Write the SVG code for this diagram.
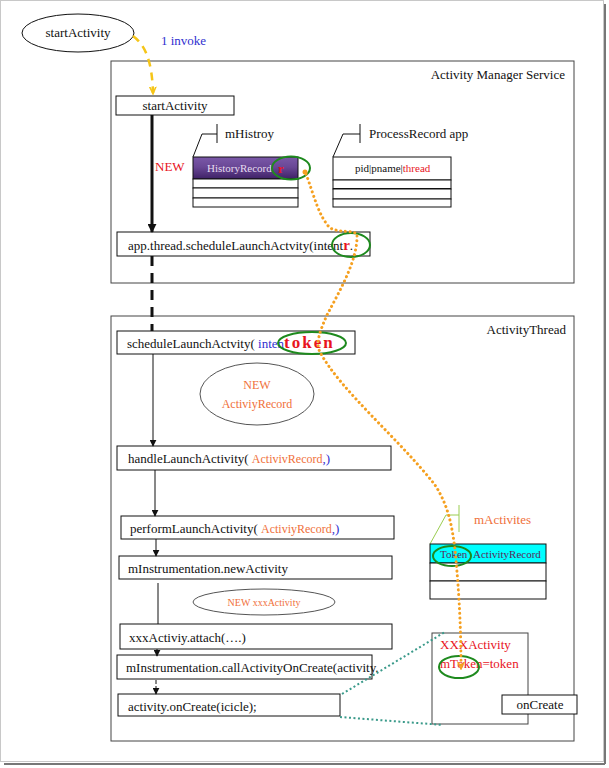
<svg xmlns="http://www.w3.org/2000/svg" width="609" height="768" viewBox="0 0 609 768">
<defs>
<style>
text{font-family:"Liberation Serif","Times New Roman",serif;font-size:13px;fill:#111}
.box{fill:#fff;stroke:#111;stroke-width:1}
.frame{fill:none;stroke:#444;stroke-width:1}
.thin{fill:none;stroke:#111;stroke-width:1}
.green{fill:none;stroke:#1e8a1e;stroke-width:2}
.red{fill:#e8141e}
.org{fill:#f0703a}
.blue{fill:#3030d0}
.teal{fill:none;stroke:#3a9a8a;stroke-width:2;stroke-dasharray:2,2.5}
.odot{fill:none;stroke:#f5a020;stroke-width:3;stroke-dasharray:0.1,4.6;stroke-linecap:round}
</style>
<marker id="ah" viewBox="0 0 10 10" refX="9" refY="5" markerWidth="7" markerHeight="7" orient="auto" markerUnits="userSpaceOnUse">
<path d="M0,0 L10,5 L0,10 z" fill="#111"/>
</marker>
<marker id="ahb" viewBox="0 0 10 10" refX="9" refY="5" markerWidth="9" markerHeight="9" orient="auto" markerUnits="userSpaceOnUse">
<path d="M0,0 L10,5 L0,10 z" fill="#111"/>
</marker>
<marker id="ahy" viewBox="0 0 10 10" refX="8" refY="5" markerWidth="8" markerHeight="8" orient="auto" markerUnits="userSpaceOnUse">
<path d="M0,1 L9,5 L0,9" fill="none" stroke="#f5c518" stroke-width="2"/>
</marker>
<marker id="aho" viewBox="0 0 10 10" refX="8" refY="5" markerWidth="8" markerHeight="8" orient="auto" markerUnits="userSpaceOnUse">
<path d="M0,1 L9,5 L0,9" fill="none" stroke="#f5a020" stroke-width="2"/>
</marker>
<linearGradient id="purp" x1="0" y1="0" x2="0" y2="1">
<stop offset="0" stop-color="#7a58a8"/>
<stop offset="0.45" stop-color="#6a4896"/>
<stop offset="1" stop-color="#3e2166"/>
</linearGradient>
</defs>

<rect x="0" y="0" width="609" height="768" fill="#fff"/>
<g id="outer-frame">
<rect x="0.5" y="0.5" width="603" height="761" fill="none" stroke="#c8c8c8" stroke-width="1"/>
<line x1="605" y1="4" x2="605" y2="764" stroke="#777" stroke-width="2"/>
<line x1="4" y1="764" x2="605" y2="764" stroke="#777" stroke-width="2"/>
</g>

<g id="ams-container">
<rect class="frame" x="111" y="61" width="463" height="222"/>
<text x="565" y="79" text-anchor="end">Activity Manager Service</text>
</g>

<g id="at-container">
<rect class="frame" x="111" y="316" width="463" height="425"/>
<text x="566" y="334" text-anchor="end">ActivityThread</text>
</g>

<g id="start-ellipse">
<ellipse cx="78" cy="33" rx="56" ry="19" fill="#fff" stroke="#111" stroke-width="1"/>
<text x="78" y="37" text-anchor="middle">startActivity</text>
</g>

<g id="invoke-label">
<text x="161" y="45" class="blue">1 invoke</text>
</g>

<g id="ams-start">
<rect class="box" x="116" y="96" width="118" height="19"/>
<text x="175" y="110" text-anchor="middle">startActivity</text>
</g>

<g id="new-label">
<text x="155" y="171" class="red">NEW</text>
</g>

<g id="mhistory">
<path class="thin" d="M217,124 V143 M217,134 H202 L193,157" stroke="#333"/>
<text x="225" y="138">mHistroy</text>
<rect x="193" y="157" width="105" height="22" fill="url(#purp)" stroke="#111"/>
<rect class="box" x="193" y="179" width="105" height="9"/>
<rect class="box" x="193" y="188" width="105" height="10"/>
<rect class="box" x="193" y="198" width="105" height="9"/>
<text x="207" y="172" style="fill:#e6dcf0;font-size:11px">HistoryRecord</text>
<text x="278" y="173" class="red" style="font-weight:bold;font-size:13px">r</text>
<ellipse class="green" cx="291" cy="168" rx="19" ry="11.5"/>
</g>

<g id="processrecord">
<path class="thin" d="M360,124 V143 M360,134 H343 L333,157" stroke="#333"/>
<text x="369" y="138">ProcessRecord app</text>
<rect class="box" x="333" y="157" width="118" height="23"/>
<rect class="box" x="333" y="180" width="118" height="9"/>
<line x1="333" y1="189" x2="451" y2="189" stroke="#111" stroke-width="2"/>
<rect class="box" x="333" y="189" width="118" height="10"/>
<rect class="box" x="333" y="199" width="118" height="8"/>
<text x="355" y="172" style="font-size:11px">pid|pname|<tspan class="red">thread</tspan></text>
</g>

<g id="ams-schedule">
<rect class="box" x="117" y="232" width="253" height="24"/>
<text x="128" y="250">app.thread.scheduleLaunchActvity(intent<tspan class="red" style="font-weight:bold;font-size:15px">r</tspan>.</text>
<ellipse class="green" cx="351" cy="245" rx="19" ry="12"/>
</g>

<g id="at-schedule">
<rect class="box" x="117" y="331" width="238" height="23"/>
<text x="127" y="348">scheduleLaunchActvity( <tspan class="blue">inten</tspan><tspan class="red" style="font-weight:bold;font-size:17px;letter-spacing:2px">token</tspan></text>
<ellipse class="green" cx="312" cy="343" rx="34" ry="11"/>
</g>

<g id="new-activityrecord">
<ellipse cx="257" cy="394" rx="57" ry="31" fill="#fff" stroke="#555" stroke-width="1"/>
<text x="257" y="389" text-anchor="middle" class="org" style="font-size:12px">NEW</text>
<text x="257" y="408" text-anchor="middle" class="org" style="font-size:12px">ActiviyRecord</text>
</g>

<g id="handle">
<rect class="box" x="117" y="446" width="274" height="24"/>
<text x="128" y="463">handleLaunchActivity( <tspan class="org" style="font-size:12px">ActivivRecord</tspan><tspan class="blue">,)</tspan></text>
</g>

<g id="perform">
<rect class="box" x="121" y="516" width="273" height="23"/>
<text x="130" y="533">performLaunchActivity( <tspan class="org" style="font-size:12px">ActiviyRecord</tspan><tspan class="blue">,)</tspan></text>
</g>

<g id="newactivity">
<rect class="box" x="119" y="556" width="273" height="23"/>
<text x="128" y="573">mInstrumentation.newActivity</text>
</g>

<g id="new-xxxactivity">
<ellipse cx="264" cy="602" rx="71" ry="13" fill="#fff" stroke="#555" stroke-width="1"/>
<text x="264" y="606" text-anchor="middle" class="org" style="font-size:10px">NEW xxxActivity</text>
</g>

<g id="attach">
<rect class="box" x="120" y="624" width="272" height="25"/>
<text x="129" y="642">xxxActiviy.attach(….)</text>
</g>

<g id="callcreate">
<rect class="box" x="117" y="655" width="255" height="24"/>
<text x="126" y="672">mInstrumentation.callActivityOnCreate(activity.</text>
</g>

<g id="oncreate-call">
<rect class="box" x="118" y="694" width="222" height="22"/>
<text x="128" y="711">activity.onCreate(icicle);</text>
</g>

<g id="mactivites">
<path d="M459,505 V532 M459,515 H446 L430,544" fill="none" stroke="#9acd50" stroke-width="1"/>
<text x="474" y="524" class="org">mActivites</text>
<rect x="430" y="544" width="116" height="19" fill="#00ffff" stroke="#111"/>
<rect class="box" x="430" y="563" width="116" height="18"/>
<rect class="box" x="430" y="581" width="116" height="18"/>
<text x="440" y="558" style="fill:#5a2a5a;font-size:11px">Token <tspan x="473">ActivityRecord</tspan></text>
<ellipse class="green" cx="452" cy="556" rx="19" ry="10"/>
</g>

<g id="xxxactivity">
<rect x="432" y="633" width="96" height="91" fill="#fff" stroke="#444" stroke-width="1"/>
<text x="440" y="649" class="red" style="font-size:13px">XXXActivity</text>
<text x="440" y="668" class="red" style="font-size:13px">mToken=token</text>
<ellipse class="green" cx="459" cy="667" rx="20" ry="11"/>
</g>

<g id="oncreate-box">
<rect class="box" x="502" y="695" width="75" height="19"/>
<text x="540" y="709" text-anchor="middle">onCreate</text>
</g>

<g id="connectors">
<path d="M133,36 C145,45 152,60 153,93" fill="none" stroke="#f5c518" stroke-width="2.5" stroke-dasharray="8,6" marker-end="url(#ahy)"/>
<line x1="152" y1="115" x2="152" y2="232" stroke="#111" stroke-width="3" marker-end="url(#ahb)"/>
<line x1="152" y1="256" x2="152" y2="331" stroke="#111" stroke-width="3" stroke-dasharray="10,7"/>
<line x1="153" y1="354" x2="153" y2="446" stroke="#111" stroke-width="1" marker-end="url(#ah)"/>
<line x1="155" y1="470" x2="155" y2="516" stroke="#111" stroke-width="1" marker-end="url(#ah)"/>
<line x1="156" y1="539" x2="156" y2="556" stroke="#111" stroke-width="1" marker-end="url(#ah)"/>
<line x1="158" y1="583" x2="158" y2="624" stroke="#111" stroke-width="1"/>
<line x1="157" y1="649" x2="157" y2="656" stroke="#111" stroke-width="1" marker-end="url(#ah)"/>
<line x1="156" y1="680" x2="156" y2="694" stroke="#111" stroke-width="1" stroke-dasharray="4,2" marker-end="url(#ah)"/>
<line class="teal" x1="342" y1="694" x2="445" y2="632"/>
<line class="teal" x1="340" y1="717" x2="443" y2="725"/>
<circle cx="305" cy="172" r="2.5" fill="#f5a020"/>
<path class="odot" d="M306,174 C314,195 318,215 330,228 C340,233 352,230 357,234 C358,260 340,290 327,315 C318,335 316,345 320,352 C340,390 400,440 435,485 C448,505 452,525 455,550 C458,580 461,620 461,668" marker-end="url(#aho)"/>
</g>
</svg>
